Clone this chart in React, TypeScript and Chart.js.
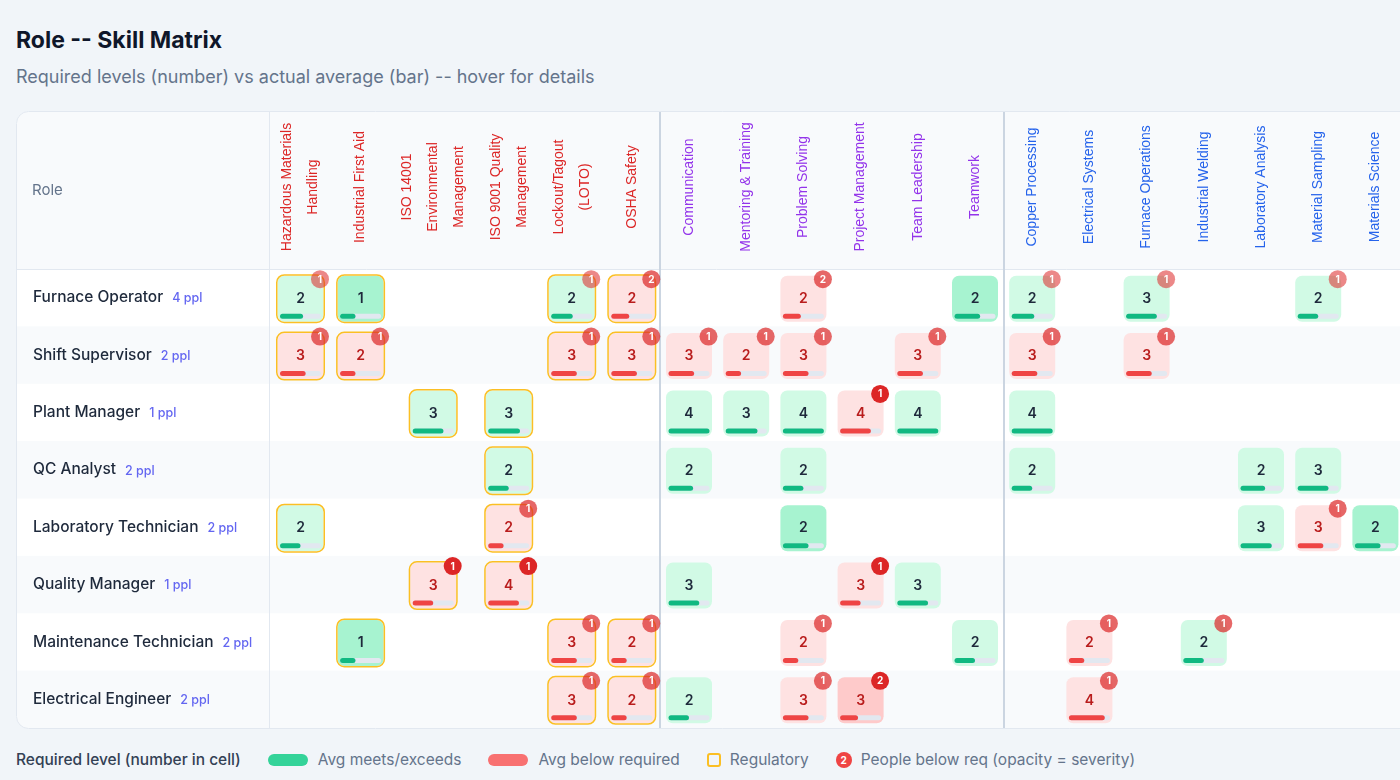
import React, { useEffect, useRef } from "react";
import { Chart, registerables } from "chart.js";

Chart.register(...registerables);

// ---------------- data ----------------
const ROLES = [
  "Furnace Operator",
  "Shift Supervisor",
  "Plant Manager",
  "QC Analyst",
  "Laboratory Technician",
  "Quality Manager",
  "Maintenance Technician",
  "Electrical Engineer",
];
const HEADCOUNT = [4, 2, 1, 2, 2, 1, 2, 2];

const SKILLS: string[][] = [
  ["Hazardous Materials", "Handling"],
  ["Industrial First Aid"],
  ["ISO 14001", "Environmental", "Management"],
  ["ISO 9001 Quality", "Management"],
  ["Lockout/Tagout", "(LOTO)"],
  ["OSHA Safety"],
  ["Communication"],
  ["Mentoring & Training"],
  ["Problem Solving"],
  ["Project Management"],
  ["Team Leadership"],
  ["Teamwork"],
  ["Copper Processing"],
  ["Electrical Systems"],
  ["Furnace Operations"],
  ["Industrial Welding"],
  ["Laboratory Analysis"],
  ["Material Sampling"],
  ["Materials Science"],
];
const SKILL_GROUP = [
  "regulatory", "regulatory", "regulatory", "regulatory", "regulatory", "regulatory",
  "soft", "soft", "soft", "soft", "soft", "soft",
  "technical", "technical", "technical", "technical", "technical", "technical", "technical",
];

const _ = null;
// required level per role x skill
const REQUIRED: (number | null)[][] = [
  [2, 1, _, _, 2, 2, _, _, 2, _, _, 2, 2, _, 3, _, _, 2, _],
  [3, 2, _, _, 3, 3, 3, 2, 3, _, 3, _, 3, _, 3, _, _, _, _],
  [_, _, 3, 3, _, _, 4, 3, 4, 4, 4, _, 4, _, _, _, _, _, _],
  [_, _, _, 2, _, _, 2, _, 2, _, _, _, 2, _, _, _, 2, 3, _],
  [2, _, _, 2, _, _, _, _, 2, _, _, _, _, _, _, _, 3, 3, 2],
  [_, _, 3, 4, _, _, 3, _, _, 3, 3, _, _, _, _, _, _, _, _],
  [_, 1, _, _, 3, 2, _, _, 2, _, _, 2, _, 2, _, 2, _, _, _],
  [_, _, _, _, 3, 2, 2, _, 3, 3, _, _, _, 4, _, _, _, _, _],
];
// actual average level
const AVERAGE: (number | null)[][] = [
  [2.25, 1.5, _, _, 2.1, 1.75, _, _, 1.75, _, _, 2.5, 2.2, _, 3.0, _, _, 2.0, _],
  [2.5, 1.5, _, _, 2.5, 2.5, 2.5, 1.5, 2.5, _, 2.5, _, 2.5, _, 2.5, _, _, _, _],
  [_, _, 3.0, 3.1, _, _, 4.0, 3.1, 4.0, 3.0, 4.0, _, 4.0, _, _, _, _, _, _],
  [_, _, _, 2.0, _, _, 2.4, _, 2.0, _, _, _, 2.0, _, _, _, 2.4, 3.0, _],
  [2.0, _, _, 1.5, _, _, _, _, 2.5, _, _, _, _, _, _, _, 3.05, 2.5, 2.5],
  [_, _, 2.0, 3.0, _, _, 3.0, _, _, 2.0, 3.0, _, _, _, _, _, _, _, _],
  [_, 1.5, _, _, 2.5, 1.5, _, _, 1.5, _, _, 2.0, _, 1.5, _, 2.0, _, _, _],
  [_, _, _, _, 2.5, 1.5, 2.0, _, 2.5, 1.75, _, _, _, 3.5, _, _, _, _, _],
];
// number of people below the required level
const BELOW: (number | null)[][] = [
  [1, 0, _, _, 1, 2, _, _, 2, _, _, 0, 1, _, 1, _, _, 1, _],
  [1, 1, _, _, 1, 1, 1, 1, 1, _, 1, _, 1, _, 1, _, _, _, _],
  [_, _, 0, 0, _, _, 0, 0, 0, 1, 0, _, 0, _, _, _, _, _, _],
  [_, _, _, 0, _, _, 0, _, 0, _, _, _, 0, _, _, _, 0, 0, _],
  [0, _, _, 1, _, _, _, _, 0, _, _, _, _, _, _, _, 0, 1, 0],
  [_, _, 1, 1, _, _, 0, _, _, 1, 0, _, _, _, _, _, _, _, _],
  [_, 0, _, _, 1, 1, _, _, 1, _, _, 0, _, 1, _, 1, _, _, _],
  [_, _, _, _, 1, 1, 0, _, 1, 2, _, _, _, 1, _, _, _, _, _],
];
const MAX_LEVEL = 4;

// ---------------- layout / style ----------------
const CANVAS_W = 1400;
const CANVAS_H = 618;
const ROLE_COL_W = 253;
const HEADER_H = 158;
const COL_W_BY_LINES: Record<number, number> = { 1: 57.2, 2: 63, 3: 88 };
const CELL = 46;
const GROUP_COLOR: Record<string, string> = {
  regulatory: "#dc2626",
  soft: "#9333ea",
  technical: "#2563eb",
};
const SANS = "Inter, 'Noto Sans', sans-serif";
const HEAD_FONT = "'Liberation Sans', Arial, sans-serif";

const colWidths = SKILLS.map((l) => COL_W_BY_LINES[l.length]);
const colStarts: number[] = [];
colWidths.reduce((acc, w) => {
  colStarts.push(acc);
  return acc + w;
}, 0);
const colCenters = colStarts.map((s, i) => s + colWidths[i] / 2);
const TOTAL_W = colWidths.reduce((a, b) => a + b, 0);

type Pt = { x: number; y: number; r: number; c: number };
const POINTS: Pt[] = [];
REQUIRED.forEach((row, r) =>
  row.forEach((v, c) => {
    if (v != null) POINTS.push({ x: colCenters[c], y: r, r, c });
  })
);

function rr(ctx: CanvasRenderingContext2D, x: number, y: number, w: number, h: number, rad: number) {
  ctx.beginPath();
  ctx.moveTo(x + rad, y);
  ctx.lineTo(x + w - rad, y);
  ctx.arcTo(x + w, y, x + w, y + rad, rad);
  ctx.lineTo(x + w, y + h - rad);
  ctx.arcTo(x + w, y + h, x + w - rad, y + h, rad);
  ctx.lineTo(x + rad, y + h);
  ctx.arcTo(x, y + h, x, y + h - rad, rad);
  ctx.lineTo(x, y + rad);
  ctx.arcTo(x, y, x + rad, y, rad);
  ctx.closePath();
}

const matrixPlugin = {
  id: "matrixPlugin",
  beforeDraw(chart: any) {
    const ctx: CanvasRenderingContext2D = chart.ctx;
    const xs = chart.scales.x;
    const ys = chart.scales.y;
    const area = chart.chartArea;
    const W = chart.width;
    const H = chart.height;
    ctx.save();
    // card
    rr(ctx, 0.5, 0.5, W + 40, H - 1, 12);
    ctx.fillStyle = "#ffffff";
    ctx.fill();
    ctx.save();
    ctx.clip();
    // header bg
    ctx.fillStyle = "#f8fafc";
    ctx.fillRect(0, 0, W + 40, area.top);
    // stripes
    ROLES.forEach((_r, i) => {
      if (i % 2 === 1) {
        const y1 = ys.getPixelForValue(i - 0.5);
        const y2 = ys.getPixelForValue(i + 0.5);
        ctx.fillStyle = "#f8fafc";
        ctx.fillRect(0, y1, W + 40, y2 - y1);
      }
    });
    // header bottom line
    ctx.strokeStyle = "#e2e8f0";
    ctx.lineWidth = 1;
    ctx.beginPath();
    ctx.moveTo(0, Math.round(area.top) + 0.5);
    ctx.lineTo(W + 40, Math.round(area.top) + 0.5);
    ctx.stroke();
    // role column border
    ctx.beginPath();
    ctx.moveTo(Math.round(area.left) + 0.5, 0);
    ctx.lineTo(Math.round(area.left) + 0.5, H);
    ctx.stroke();
    // group separators
    ctx.strokeStyle = "#cbd5e1";
    ctx.lineWidth = 2;
    SKILL_GROUP.forEach((g, i) => {
      if (i > 0 && g !== SKILL_GROUP[i - 1]) {
        const px = Math.round(xs.getPixelForValue(colStarts[i]));
        ctx.beginPath();
        ctx.moveTo(px, 0);
        ctx.lineTo(px, H);
        ctx.stroke();
      }
    });
    ctx.restore();
    // card border
    rr(ctx, 0.5, 0.5, W + 40, H - 1, 12);
    ctx.strokeStyle = "#e2e8f0";
    ctx.lineWidth = 1;
    ctx.stroke();

    // header "Role"
    ctx.fillStyle = "#64748b";
    ctx.font = `400 15px ${SANS}`;
    ctx.textAlign = "left";
    ctx.textBaseline = "middle";
    ctx.fillText("Role", 16, area.top / 2);

    // skill labels (rotated)
    ctx.font = `14px ${HEAD_FONT}`;
    const midY = area.top / 2 - 3;
    SKILLS.forEach((lines, c) => {
      const cx = xs.getPixelForValue(colCenters[c]);
      ctx.fillStyle = GROUP_COLOR[SKILL_GROUP[c]];
      lines.forEach((ln, k) => {
        const off = (k - (lines.length - 1) / 2) * 26;
        ctx.save();
        ctx.translate(cx + off, midY);
        ctx.rotate(-Math.PI / 2);
        ctx.textAlign = "center";
        ctx.textBaseline = "middle";
        ctx.fillText(ln, 0, 0);
        ctx.restore();
      });
    });

    // role labels
    ROLES.forEach((name, i) => {
      const y = ys.getPixelForValue(i);
      ctx.textAlign = "left";
      ctx.textBaseline = "middle";
      ctx.font = `500 15.5px ${SANS}`;
      ctx.fillStyle = "#1e293b";
      ctx.fillText(name, 17, y);
      const w = ctx.measureText(name).width;
      ctx.font = `500 12.5px ${SANS}`;
      ctx.fillStyle = "#6366f1";
      ctx.fillText(`${HEADCOUNT[i]} ppl`, 17 + w + 9, y + 1);
    });
    ctx.restore();
  },
  afterDatasetsDraw(chart: any) {
    const ctx: CanvasRenderingContext2D = chart.ctx;
    const meta = chart.getDatasetMeta(0);
    const pts: Pt[] = chart.data.datasets[0].data;
    ctx.save();
    meta.data.forEach((el: any, i: number) => {
      const { r, c } = pts[i];
      const req = REQUIRED[r][c] as number;
      const avg = AVERAGE[r][c] as number;
      const below = BELOW[r][c] as number;
      const meets = avg >= req;
      const x0 = el.x - CELL / 2;
      const y0 = el.y - CELL / 2 + 1;
      let fill: string;
      if (meets) fill = avg - req >= 0.4 ? "#a7f3d0" : "#d1fae5";
      else fill = req - avg > 1.1 ? "#fecaca" : "#fee2e2";
      rr(ctx, x0, y0, CELL, CELL, 7);
      ctx.fillStyle = fill;
      ctx.fill();
      if (SKILL_GROUP[c] === "regulatory") {
        rr(ctx, x0 - 0.75, y0 - 0.75, CELL + 1.5, CELL + 1.5, 7.5);
        ctx.strokeStyle = "#fbbf24";
        ctx.lineWidth = 1.5;
        ctx.stroke();
      }
      // number
      ctx.fillStyle = meets ? "#1e293b" : "#b91c1c";
      ctx.font = `600 14px ${SANS}`;
      ctx.textAlign = "center";
      ctx.textBaseline = "middle";
      ctx.fillText(String(req), el.x, y0 + CELL / 2);
      // bar
      const bx = x0 + 2.5;
      const bw = CELL - 5;
      const by = y0 + CELL - 8;
      rr(ctx, bx, by, bw, 5, 2.5);
      ctx.fillStyle = "#e2e8f0";
      ctx.fill();
      const fw = Math.max(5, Math.min(1, avg / MAX_LEVEL) * bw);
      rr(ctx, bx, by, fw, 5, 2.5);
      ctx.fillStyle = meets ? "#10b981" : "#ef4444";
      ctx.fill();
      // badge
      if (below > 0) {
        const sev = below / HEADCOUNT[r];
        ctx.globalAlpha = 0.4 + 0.6 * sev;
        ctx.beginPath();
        ctx.arc(x0 + CELL - 3.5, y0 + 3.5, 9, 0, Math.PI * 2);
        ctx.fillStyle = "#dc2626";
        ctx.fill();
        ctx.globalAlpha = 1;
        ctx.fillStyle = "#ffffff";
        ctx.font = `700 10px ${SANS}`;
        ctx.fillText(String(below), x0 + CELL - 3.5, y0 + 4);
      }
    });
    ctx.restore();
  },
};

document.body.style.margin = "0";
document.body.style.overflow = "hidden";

export default function App() {
  const ref = useRef<HTMLCanvasElement | null>(null);
  useEffect(() => {
    let chart: Chart | null = null;
    let cancelled = false;
    const fontsReady = (document as any).fonts
      ? Promise.all([
          (document as any).fonts.load(`500 15px Inter`),
          (document as any).fonts.load(`600 14px Inter`),
          (document as any).fonts.load(`700 10px Inter`),
          (document as any).fonts.load(`14px 'Liberation Sans'`),
        ]).catch(() => null)
      : Promise.resolve(null);
    fontsReady.then(() => {
      if (cancelled || !ref.current) return;
      chart = new Chart(ref.current, {
        type: "scatter",
        data: {
          datasets: [
            {
              data: POINTS as any,
              pointRadius: 0,
              pointHoverRadius: 0,
            },
          ],
        },
        options: {
          responsive: false,
          animation: false,
          events: [],
          devicePixelRatio: 1,
          layout: {
            padding: {
              left: ROLE_COL_W,
              top: HEADER_H,
              right: CANVAS_W - ROLE_COL_W - TOTAL_W,
              bottom: 1,
            },
          },
          scales: {
            x: { type: "linear", min: 0, max: TOTAL_W, display: false },
            y: {
              type: "linear",
              min: -0.5,
              max: ROLES.length - 0.5,
              reverse: true,
              display: false,
            },
          },
          plugins: {
            legend: { display: false },
            tooltip: { enabled: false },
          },
        },
        plugins: [matrixPlugin],
      });
    });
    return () => {
      cancelled = true;
      if (chart) chart.destroy();
    };
  }, []);

  const legendText: React.CSSProperties = { color: "#64748b" };
  return (
    <div
      style={{
        position: "relative",
        width: 1400,
        height: 780,
        overflow: "hidden",
        background: "#f1f5f9",
        fontFamily: SANS,
      }}
    >
      <div
        style={{
          position: "absolute",
          left: 16,
          top: 25,
          fontSize: 23,
          lineHeight: "30px",
          fontWeight: 700,
          color: "#0f172a",
          whiteSpace: "nowrap",
        }}
      >
        Role -- Skill Matrix
      </div>
      <div
        style={{
          position: "absolute",
          left: 16,
          top: 65,
          fontSize: 18,
          lineHeight: "24px",
          color: "#64748b",
          whiteSpace: "nowrap",
        }}
      >
        Required levels (number) vs actual average (bar) -- hover for details
      </div>
      <canvas
        ref={ref}
        width={CANVAS_W}
        height={CANVAS_H}
        style={{ position: "absolute", left: 16, top: 111, width: CANVAS_W, height: CANVAS_H }}
      />
      <div
        style={{
          position: "absolute",
          left: 16,
          top: 750,
          height: 20,
          lineHeight: "20px",
          display: "flex",
          alignItems: "center",
          fontSize: 15.5,
          whiteSpace: "nowrap",
        }}
      >
        <span style={{ color: "#334155", fontWeight: 500 }}>Required level (number in cell)</span>
        <span
          style={{ marginLeft: 27, width: 40, height: 12, borderRadius: 6, background: "#34d399", display: "inline-block" }}
        />
        <span style={{ ...legendText, marginLeft: 10 }}>Avg meets/exceeds</span>
        <span
          style={{ marginLeft: 27, width: 40, height: 12, borderRadius: 6, background: "#f87171", display: "inline-block" }}
        />
        <span style={{ ...legendText, marginLeft: 10 }}>Avg below required</span>
        <span
          style={{
            marginLeft: 27,
            width: 14,
            height: 14,
            boxSizing: "border-box",
            borderRadius: 3,
            border: "2px solid #fbbf24",
            display: "inline-block",
          }}
        />
        <span style={{ ...legendText, marginLeft: 9 }}>Regulatory</span>
        <span
          style={{
            marginLeft: 27,
            width: 16,
            height: 16,
            borderRadius: 8,
            background: "#ef4444",
            color: "#fff",
            fontSize: 10,
            fontWeight: 700,
            lineHeight: "16px",
            textAlign: "center",
            display: "inline-block",
          }}
        >
          2
        </span>
        <span style={{ ...legendText, marginLeft: 9 }}>People below req (opacity = severity)</span>
      </div>
    </div>
  );
}
